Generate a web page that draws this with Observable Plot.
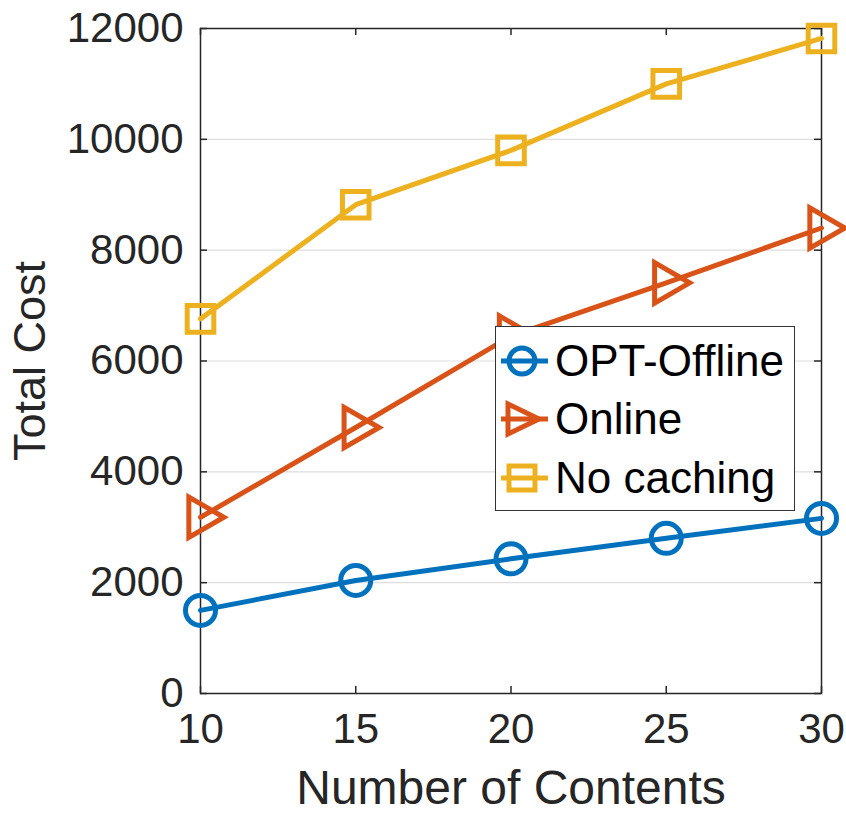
<!DOCTYPE html>
<html>
<head>
<meta charset="utf-8">
<script src="https://cdn.jsdelivr.net/npm/d3@7"></script>
<script src="https://cdn.jsdelivr.net/npm/@observablehq/plot@0.6"></script>
<style>
  body { margin: 0; background: white; }
  #wrap { position: relative; width: 846px; height: 814px; font-family: "Liberation Sans", Arial, Helvetica, sans-serif; }
  #legend { position: absolute; left: 495px; top: 326px; width: 300px; height: 185px; box-sizing: border-box;
            border: 1.5px solid #333; background: white; }
  .row { position: absolute; left: 0; height: 50px; display: flex; align-items: center; }
  .row svg { display: block; }
  .row span { font-size: 44px; color: #000; margin-left: 3px; line-height: 1; }
</style>
</head>
<body>
<div id="wrap"></div>
<script>
const contents = [10, 15, 20, 25, 30];
const optOffline = [1500, 2040, 2430, 2800, 3160];
const online = [3180, 4800, 6450, 7410, 8400];
const noCaching = [6760, 8820, 9800, 11000, 11820];
const seriesNames = ["OPT-Offline", "Online", "No caching"];
const colors = ["#0072BD", "#D95319", "#EDB120"];
const xTicks = [10, 15, 20, 25, 30];
const yTicks = [0, 2000, 4000, 6000, 8000, 10000, 12000];

const seriesValues = [optOffline, online, noCaching];
const symbols = ["circle", "triangle", "square"];
const rotations = [0, 90, 0];
const data = seriesValues.flatMap((vals, s) => vals.map((v, i) => ({series: seriesNames[s], x: contents[i], y: v})));

const W = 846, H = 814;
const mL = 200, mR = 25, mT = 28, mB = 121;
const innerW = W - mL - mR, innerH = H - mT - mB;
const axisColor = "#262626";

const marks = [
  Plot.gridY(yTicks, {stroke: "#dedede", strokeOpacity: 1, strokeWidth: 1.2}),
  Plot.frame({stroke: axisColor, strokeWidth: 1.5}),
  Plot.tickX(xTicks, {x: d => d, insetTop: innerH - 7, stroke: axisColor, strokeWidth: 1.5}),
  Plot.tickX(xTicks, {x: d => d, insetBottom: innerH - 7, stroke: axisColor, strokeWidth: 1.5}),
  Plot.tickY(yTicks, {y: d => d, insetRight: innerW - 7, stroke: axisColor, strokeWidth: 1.5}),
  Plot.tickY(yTicks, {y: d => d, insetLeft: innerW - 7, stroke: axisColor, strokeWidth: 1.5}),
  Plot.axisX(xTicks, {tickSize: 0, tickPadding: 20, fontSize: 42, fill: axisColor, label: null, tickFormat: "d"}),
  Plot.axisY(yTicks, {tickSize: 0, tickPadding: 17, fontSize: 42, fill: axisColor, label: null, tickFormat: "d"}),
  Plot.text(["Number of Contents"], {frameAnchor: "bottom", dy: 110, fontSize: 48, fill: axisColor}),
  Plot.text(["Total Cost"], {frameAnchor: "left", textAnchor: "middle", dx: -170, rotate: -90, fontSize: 45, fill: axisColor})
];
seriesNames.forEach((name, s) => {
  const d = data.filter(p => p.series === name);
  marks.push(Plot.line(d, {x: "x", y: "y", stroke: colors[s], strokeWidth: 5}));
  marks.push(Plot.dot(d, {x: "x", y: "y", symbol: symbols[s], rotate: rotations[s], r: 15, stroke: colors[s], strokeWidth: 5, fill: "none"}));
});

const chart = Plot.plot({
  width: W, height: H,
  marginLeft: mL, marginRight: mR, marginTop: mT, marginBottom: mB,
  x: {domain: [10, 30], axis: null},
  y: {domain: [0, 12000], axis: null},
  style: {fontFamily: "'Liberation Sans', Arial, Helvetica, sans-serif", overflow: "visible", background: "white"},
  marks
});
const wrap = document.getElementById("wrap");
wrap.appendChild(chart);

// legend
const legend = document.createElement("div");
legend.id = "legend";
const rowTops = [9, 67, 126];
const symSvg = [
  c => `<circle cx="26" cy="25" r="13" fill="none" stroke="${c}" stroke-width="5"/>`,
  c => `<path d="M12,10 L43,25 L12,40 Z" fill="none" stroke="${c}" stroke-width="5" stroke-linejoin="miter"/>`,
  c => `<rect x="13" y="13" width="26" height="24" fill="none" stroke="${c}" stroke-width="5"/>`
];
seriesNames.forEach((name, s) => {
  const row = document.createElement("div");
  row.className = "row";
  row.style.top = rowTops[s] + "px";
  row.innerHTML = `<svg width="56" height="50"><line x1="5" x2="52" y1="25" y2="25" stroke="${colors[s]}" stroke-width="5"/>${symSvg[s](colors[s])}</svg><span>${name}</span>`;
  legend.appendChild(row);
});
wrap.appendChild(legend);
</script>
</body>
</html>
